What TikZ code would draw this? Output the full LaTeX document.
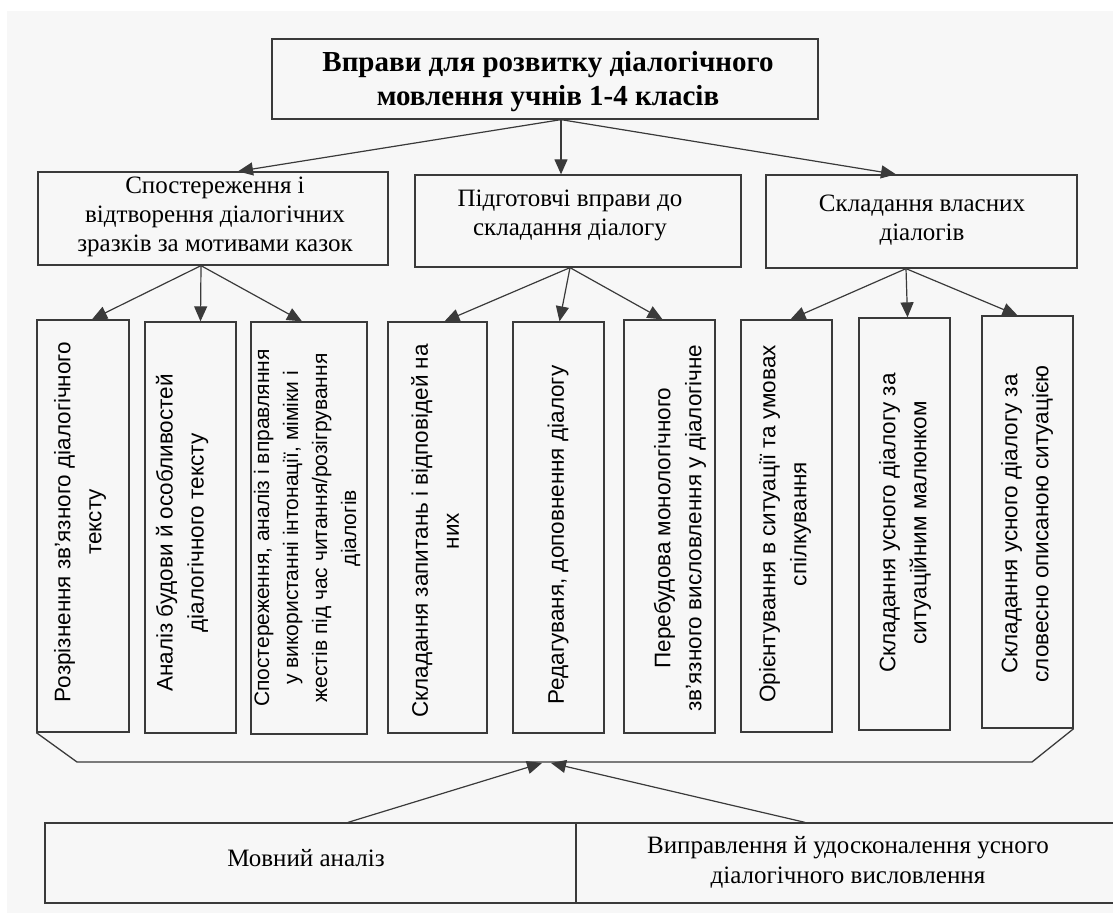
\documentclass[tikz,border=0pt]{standalone}
\usepackage{fontspec}
\setmainfont{Liberation Serif}
\newfontfamily\rotfont{Liberation Sans}
\usetikzlibrary{arrows.meta,calc}
\definecolor{bg}{HTML}{F7F7F7}
\definecolor{ln}{HTML}{3A3A3A}
\begin{document}
\begin{tikzpicture}[x=1pt,y=-1pt,
  box/.style={draw=ln, line width=1.3pt, fill=bg, inner sep=0pt},
  arr/.style={draw=ln, line width=1.2pt, -{Triangle[length=15pt,width=13pt]}},
  titletext/.style={align=center, font=\fontsize{29}{34}\selectfont\bfseries, inner sep=0pt},
  midtext/.style={align=center, font=\fontsize{25}{29}\selectfont, inner sep=0pt},
  rottext/.style={align=center, rotate=90, font=\rotfont\fontsize{22.5}{31}\selectfont, inner sep=0pt},
  rottextsmall/.style={align=center, rotate=90, font=\rotfont\fontsize{21}{29}\selectfont, inner sep=0pt},
  bottext/.style={align=center, font=\fontsize{25}{30}\selectfont, inner sep=0pt}
]
\clip (0,0) rectangle (1113,913);
\fill[white] (0,0) rectangle (1113,913);
\fill[bg] (7,11) rectangle (1113,913);

% top
\node[box, minimum width=546pt, minimum height=80pt] (top) at (545,79) {};
\node[titletext] (topt) at (548,82) {Вправи для розвитку діалогічного\\мовлення учнів 1-4 класів};

% level 2
\node[box, minimum width=350pt, minimum height=93pt] (A) at (213,218.5) {};
\node[midtext] (At) at (215,217) {Спостереження і\\відтворення діалогічних\\зразків за мотивами казок};
\node[box, minimum width=326pt, minimum height=92pt] (B) at (578,221) {};
\node[midtext] (Bt) at (570,215) {Підготовчі вправи до\\складання діалогу};
\node[box, minimum width=311pt, minimum height=93pt] (C) at (921.5,221.5) {};
\node[midtext] (Ct) at (922,220) {Складання власних\\діалогів};

% level 3 boxes
\node[box, minimum width=92pt, minimum height=412pt] (b1) at (83,526) {};
\node[box, minimum width=91pt, minimum height=411pt] (b2) at (190.5,527.5) {};
\node[box, minimum width=116pt, minimum height=412pt] (b3) at (309,528) {};
\node[box, minimum width=99pt, minimum height=411pt] (b4) at (437.5,527.5) {};
\node[box, minimum width=91pt, minimum height=411pt] (b5) at (558.5,527.5) {};
\node[box, minimum width=91pt, minimum height=413pt] (b6) at (669.5,526.5) {};
\node[box, minimum width=91pt, minimum height=412pt] (b7) at (786.5,526) {};
\node[box, minimum width=91pt, minimum height=412pt] (b8) at (904.5,524) {};
\node[box, minimum width=91pt, minimum height=412pt] (b9) at (1027.5,522) {};

\node[rottext] (t1) at (80,522) {Розрізнення зв’язного діалогічного\\тексту};
\node[rottext] (t2) at (182,533) {Аналіз будови й особливостей\\діалогічного тексту};
\node[rottextsmall] (t3) at (307,528) {Спостереження, аналіз і вправляння\\у використанні інтонації, міміки і\\жестів під час читання/розігрування\\діалогів};
\node[rottext] (t4) at (435,531) {Складання запитань і відповідей на\\них};
\node[rottext] (t5) at (558,535) {Редагуваня, доповнення діалогу};
\node[rottext] (t6) at (680,528) {Перебудова монологічного\\зв’язного висловлення у діалогічне};
\node[rottext] (t7) at (785,524) {Орієнтування в ситуації та умовах\\спілкування};
\node[rottext] (t8) at (905,523) {Складання усного діалогу за\\ситуаційним малюнком};
\node[rottext] (t9) at (1027,524) {Складання усного діалогу за\\словесно описаною ситуацією};

% bottom
\node[box, minimum width=531pt, minimum height=80pt] (bl) at (310.5,863) {};
\node[box, minimum width=554pt, minimum height=80pt] (br) at (853,863) {};
\node[bottext] (blt) at (306,858) {Мовний аналіз};
\node[bottext] (brt) at (848,862) {Виправлення й удосконалення усного\\діалогічного висловлення};

% arrows top -> level 2
\coordinate (o0) at ($(top.south)+(16,0)$);
\draw[arr] (o0) -- ($(A.north)+(25,0)$);
\draw[arr] (o0) -- ($(B.north)+(-17,0)$);
\draw[arr] (o0) -- ($(C.north)+(-25.5,0)$);

% level 2 -> level 3
\coordinate (oA) at ($(A.south)+(-12,0)$);
\coordinate (oB) at ($(B.south)+(-8,0)$);
\coordinate (oC) at ($(C.south)+(-15.5,0)$);
\draw[arr] (oA) -- ($(b1.north)+(9,0)$);
\draw[arr] (oA) -- ($(b2.north)+(10,0)$);
\draw[arr] (oA) -- ($(b3.north)+(-7,0)$);
\draw[arr] (oB) -- ($(b4.north)+(7,0)$);
\draw[arr] (oB) -- ($(b5.north)+(1,0)$);
\draw[arr] (oB) -- ($(b6.north)+(-7,0)$);
\draw[arr] (oC) -- ($(b7.north)+(4,0)$);
\draw[arr] (oC) -- ($(b8.north)+(3,0)$);
\draw[arr] (oC) -- ($(b9.north)+(-10,0)$);

% brace
\coordinate (brL) at (77,762);
\coordinate (brR) at (1032,762);
\draw[ln, line width=1.3pt, line join=miter] (b1.south west) -- (brL) -- (brR) -- (b9.south east);

% bottom arrows
\coordinate (m1) at (542,763);
\coordinate (m2) at (551,763);
\draw[arr] ($(bl.north)+(37.5,0)$) -- (m1);
\draw[arr] ($(br.north)+(-48,0)$) -- (m2);
\end{tikzpicture}
\end{document}
